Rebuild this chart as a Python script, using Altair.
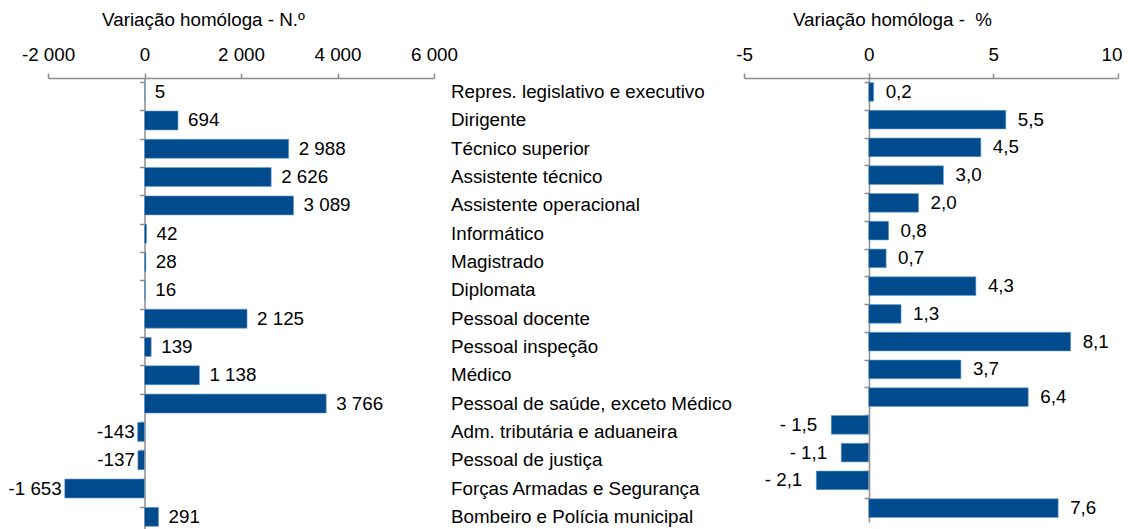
import altair as alt
import pandas as pd

categories = [
    "Repres. legislativo e executivo", "Dirigente", "Técnico superior",
    "Assistente técnico", "Assistente operacional", "Informático",
    "Magistrado", "Diplomata", "Pessoal docente", "Pessoal inspeção",
    "Médico", "Pessoal de saúde, exceto Médico", "Adm. tributária e aduaneira",
    "Pessoal de justiça", "Forças Armadas e Segurança", "Bombeiro e Polícia municipal",
]
var_n = [5, 694, 2988, 2626, 3089, 42, 28, 16, 2125, 139, 1138, 3766, -143, -137, -1653, 291]
var_pct = [0.2, 5.5, 4.5, 3.0, 2.0, 0.8, 0.7, 4.3, 1.3, 8.1, 3.7, 6.4, -1.5, -1.1, -2.1, 7.6]


def fmt_n(v):
    s = f"{abs(v):,}".replace(",", " ")
    return ("-" if v < 0 else "") + s


def fmt_p(v):
    s = f"{abs(v):.1f}".replace(".", ",")
    return ("- " if v < 0 else "") + s


df = pd.DataFrame({
    "cat": categories,
    "n": var_n,
    "p": var_pct,
    "n_lbl": [fmt_n(v) for v in var_n],
    "p_lbl": [fmt_p(v) for v in var_pct],
})

FONT = "Liberation Sans"
FS = 18.8
BLUE = "#004B8D"
GREY = "#8c8c8c"

ysort = alt.Sort(categories)


def panel(field, lbl, domain, ticks, title, titlex, width, height, zero_off, fmt_expr,
          dxp, dxn, label_align="center", label_offset=0):
    x = alt.X(
        f"{field}:Q",
        scale=alt.Scale(domain=domain, nice=False, zero=False),
        axis=alt.Axis(
            orient="top", values=ticks, labelExpr=fmt_expr, title=title,
            titleX=titlex, titleAlign="center",
            titleFont=FONT, titleFontSize=FS, titleFontWeight="normal",
            titleColor="black", titlePadding=16,
            labelFont=FONT, labelFontSize=FS, labelColor="black", labelPadding=9,
            labelFlush=False, labelOverlap=False,
            labelAlign=label_align, labelOffset=label_offset,
            domainColor=GREY, tickColor=GREY, tickSize=5, grid=False,
            domainWidth=1.5, tickWidth=1.5,
        ),
    )
    y = alt.Y(
        "cat:N", sort=ysort,
        scale=alt.Scale(paddingInner=0.33, paddingOuter=0.165),
        axis=alt.Axis(
            title=None, labels=False, offset=-zero_off, domainColor=GREY,
            tickColor=GREY, tickSize=5, bandPosition=0, domainWidth=1.5, tickWidth=1.5,
        ),
    )
    base = alt.Chart(df).encode(y=y)
    bars = base.mark_bar(color=BLUE, stroke="#6f9fd0", strokeWidth=0.6).encode(x=x)
    pos = base.transform_filter(f"datum.{field} >= 0").mark_text(
        align="left", baseline="middle", dx=dxp, font=FONT, fontSize=FS, color="black"
    ).encode(x=alt.X(f"{field}:Q"), text=f"{lbl}:N")
    neg = base.transform_filter(f"datum.{field} < 0").mark_text(
        align="right", baseline="middle", dx=dxn, font=FONT, fontSize=FS, color="black"
    ).encode(x=alt.X(f"{field}:Q"), text=f"{lbl}:N")
    return alt.layer(bars, pos, neg).properties(width=width, height=height)


left = panel(
    "n", "n_lbl", [-2000, 6000], [-2000, 0, 2000, 4000, 6000],
    "Variação homóloga - N.º", 155, 386, 453, 96.5,
    "replace(replace(format(datum.value, ','), ',', ' '), '\u2212', '-')", 10, -3,
)
right = panel(
    "p", "p_lbl", [-5, 10], [-5, 0, 5, 10],
    "Variação homóloga - \u00a0%", 148, 374, 444, 125,
    "replace(format(datum.value, 'd'), '\u2212', '-')", 12, -14,
    label_align=alt.expr("datum.value == 10 ? 'right' : 'center'"),
    label_offset=alt.expr("datum.value == 10 ? 4 : 0"),
)

middle = alt.Chart(df).mark_text(
    align="left", baseline="middle", font=FONT, fontSize=FS, color="black"
).encode(
    y=alt.Y("cat:N", sort=ysort, axis=None),
    x=alt.value(17),
    text="cat:N",
).properties(width=310, height=453)

chart = alt.hconcat(left, middle, right, spacing=0, bounds="flush").properties(
    padding={"left": 0, "top": 2, "right": 0, "bottom": 0}
).configure_view(stroke=None)

chart.save("out.html", embed_options={"renderer": "svg", "actions": False})
